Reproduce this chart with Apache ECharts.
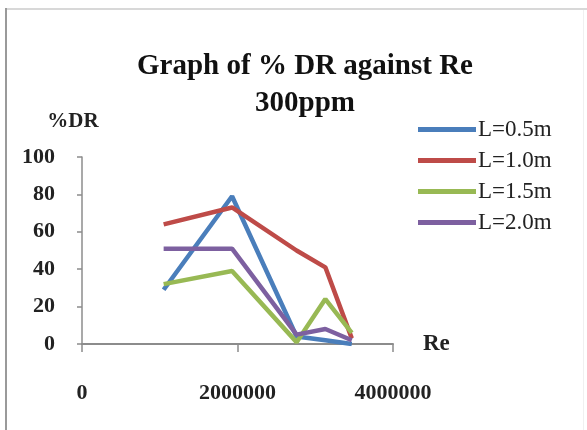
<!DOCTYPE html>
<html>
<head>
<meta charset="utf-8">
<script src="https://cdn.jsdelivr.net/npm/echarts@6/dist/echarts.min.js"></script>
<style>
html,body{margin:0;padding:0;background:#fff;}
#chart{width:587px;height:430px;}
</style>
</head>
<body>
<div id="chart"></div>
<script>
// Data
var reValues = [1050000, 1930000, 2760000, 3130000, 3470000];
var seriesNames = ['L=0.5m', 'L=1.0m', 'L=1.5m', 'L=2.0m'];
var dr05 = [29, 79, 4, 2, 0];
var dr10 = [64, 73, 50, 41, 3];
var dr15 = [32, 39, 1, 24, 6];
var dr20 = [51, 51, 5, 8, 2];
var colors = ['#4a7ebb', '#be4b48', '#98b954', '#7d60a0'];

var allValues = [dr05, dr10, dr15, dr20];
var font = '"Liberation Serif", "Times New Roman", serif';

function pairs(vals) {
  return reValues.map(function (x, i) { return [x, vals[i]]; });
}

var chart = echarts.init(document.getElementById('chart'), null, {renderer: 'canvas'});
chart.setOption({
  backgroundColor: '#ffffff',
  animation: false,
  title: {
    text: 'Graph of % DR against Re\n300ppm',
    left: 300,
    top: 43,
    textAlign: 'center',
    textStyle: {
      fontFamily: font,
      fontWeight: 'bold',
      fontSize: 29,
      lineHeight: 37,
      color: '#111'
    }
  },
  legend: {
    orient: 'vertical',
    left: 413,
    top: 113,
    itemWidth: 58,
    itemHeight: 5,
    itemGap: 8,
    icon: 'rect',
    data: seriesNames,
    textStyle: {
      fontFamily: font,
      fontSize: 23,
      color: '#222',
      padding: [0, 0, 0, -3]
    }
  },
  grid: {
    left: 82,
    right: 194,
    top: 157,
    bottom: 86,
    containLabel: false
  },
  xAxis: {
    type: 'value',
    min: 0,
    max: 4000000,
    interval: 2000000,
    name: 'Re',
    nameLocation: 'end',
    nameGap: 30,
    nameTextStyle: {
      fontFamily: font,
      fontWeight: 'bold',
      fontSize: 23,
      color: '#222',
      verticalAlign: 'middle'
    },
    axisLine: {show: true, lineStyle: {color: '#8c8c8c', width: 2}},
    axisTick: {show: true, length: 8, lineStyle: {color: '#8c8c8c', width: 1.5}},
    splitLine: {show: false},
    axisLabel: {
      margin: 38,
      fontFamily: font,
      fontWeight: 'bold',
      fontSize: 22,
      color: '#222',
      formatter: function (v) { return String(v); }
    }
  },
  yAxis: {
    type: 'value',
    min: 0,
    max: 100,
    interval: 20,
    name: '%DR',
    nameLocation: 'end',
    nameGap: 25,
    nameTextStyle: {
      fontFamily: font,
      fontWeight: 'bold',
      fontSize: 21,
      color: '#222',
      padding: [0, 18, 0, 0]
    },
    axisLine: {show: true, lineStyle: {color: '#8c8c8c', width: 1.5}},
    axisTick: {show: true, length: 5, lineStyle: {color: '#8c8c8c', width: 1.5}},
    splitLine: {show: false},
    axisLabel: {
      margin: 27,
      fontFamily: font,
      fontWeight: 'bold',
      fontSize: 22,
      color: '#222'
    }
  },
  series: seriesNames.map(function (name, i) {
    return {
      name: name,
      type: 'line',
      data: pairs(allValues[i]),
      symbol: 'none',
      color: colors[i],
      lineStyle: {width: 4.5, color: colors[i]}
    };
  }),
  graphic: [
    {type: 'rect', shape: {x: 5, y: 8, width: 2, height: 422}, style: {fill: '#9a9a9a'}, silent: true},
    {type: 'rect', shape: {x: 7, y: 8, width: 580, height: 2}, style: {fill: '#d8d8d8'}, silent: true},
    {type: 'rect', shape: {x: 583, y: 10, width: 1, height: 420}, style: {fill: '#f0f0f0'}, silent: true}
  ]
});
</script>
</body>
</html>
